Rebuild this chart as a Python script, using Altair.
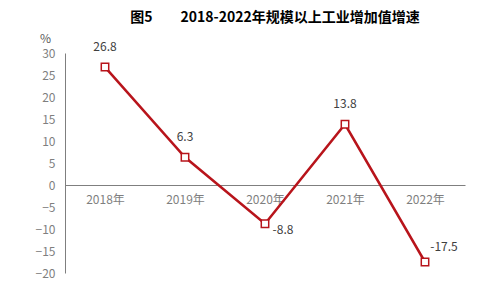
import altair as alt
import pandas as pd

years = ["2018年", "2019年", "2020年", "2021年", "2022年"]
values = [26.8, 6.3, -8.8, 13.8, -17.5]
labels = ["26.8", "6.3", "-8.8", "13.8", "-17.5"]
y_ticks = [30, 25, 20, 15, 10, 5, 0, -5, -10, -15, -20]

df = pd.DataFrame({"year": years, "value": values, "label": labels})

FONT = "Noto Sans CJK SC"
RED = "#B8141B"

x = alt.X("year:N", sort=years, scale=alt.Scale(type="point", padding=0.5),
          axis=alt.Axis(title=None, orient="bottom", offset=-88, labelAngle=0,
                        ticks=False, domainColor="#7f7f7f", labelColor="#7f7f7f",
                        labelFont=FONT, labelFontSize=12, labelPadding=9))
y = alt.Y("value:Q", scale=alt.Scale(domain=[-20, 30], nice=False, zero=False),
          axis=alt.Axis(values=y_ticks, title="%", titleAngle=0, titleX=-20, titleY=-8,
                        titleFont=FONT, titleFontSize=12, titleFontWeight="normal",
                        titleColor="#595959", grid=False, ticks=False,
                        domainColor="#7f7f7f", labelColor="#7f7f7f", labelFont=FONT,
                        labelFontSize=12, labelPadding=10))

base = alt.Chart(df)
line = base.mark_line(color=RED, strokeWidth=2.5).encode(x=x, y=y)
pts = base.mark_point(shape="square", filled=True, fill="white", stroke=RED,
                      strokeWidth=1.5, size=55, opacity=1).encode(x=x, y=y)
txt_style = dict(font=FONT, fontSize=12, color="#404040")
above = base.transform_filter(
    alt.FieldOneOfPredicate(field="year", oneOf=["2018年", "2019年", "2021年"])
).mark_text(dy=-20, **txt_style).encode(x=x, y=y, text="label:N")
right_below = base.transform_filter(alt.datum.year == "2020年").mark_text(
    dx=18, dy=6, **txt_style).encode(x=x, y=y, text="label:N")
right_above = base.transform_filter(alt.datum.year == "2022年").mark_text(
    dx=19, dy=-15, **txt_style).encode(x=x, y=y, text="label:N")

chart = alt.layer(line, pts, above, right_below, right_above).properties(
    width=400, height=220,
    title=alt.TitleParams("图5\u3000\u30002018-2022年规模以上工业增加值增速",
                          font=FONT, fontSize=14, fontWeight="bold", color="#000000",
                          anchor="middle", dx=10, offset=0, baseline="middle"),
    autosize=alt.AutoSizeParams(type="none"),
    padding={"left": 65, "top": 53, "right": 17, "bottom": 17},
).configure_view(stroke=None)

chart.save("out.html", embed_options={"renderer": "svg", "actions": False})
